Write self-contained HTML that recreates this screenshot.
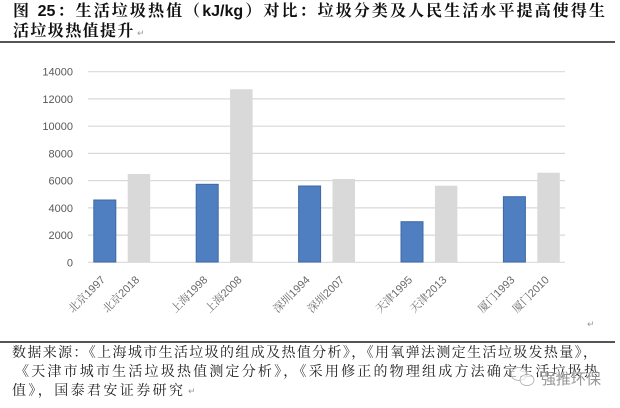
<!DOCTYPE html>
<html><head><meta charset="utf-8">
<style>
html,body{margin:0;padding:0;background:#fff;}
body{width:620px;height:408px;position:relative;overflow:hidden;}
.t{position:absolute;font-family:"Liberation Sans","Noto Serif CJK SC",serif;font-weight:700;font-size:16px;color:#111;line-height:20px;white-space:nowrap;}
.t .l{font-family:"Liberation Sans",sans-serif;letter-spacing:0;}
.f{position:absolute;font-family:"Liberation Serif","Noto Serif CJK SC",serif;font-size:14px;color:#222;line-height:19px;white-space:nowrap;}
.j{text-align:justify;text-align-last:justify;white-space:normal;overflow:hidden;height:19px;}
.rule{position:absolute;left:0;width:615px;height:2px;background:#555;}
.ret{position:absolute;font-family:"DejaVu Sans",sans-serif;font-size:9px;color:#999;}
</style></head>
<body>
<div class="t j" style="left:13px;top:2px;width:592px;height:20px;">图 <span class="l">25</span>：生活垃圾热值（<span class="l">kJ/kg</span>）对比：垃圾分类及人民生活水平提高使得生</div>
<div class="t" style="left:13px;top:22px;letter-spacing:1.4px;">活垃圾热值提升</div>
<div class="ret" style="left:137px;top:29px;">↵</div>
<div class="rule" style="top:41px;"></div>

<svg width="620" height="408" style="position:absolute;left:0;top:0;" xmlns="http://www.w3.org/2000/svg">
<g stroke="#d9d9d9" stroke-width="1.2">
<line x1="88" x2="565" y1="71.7" y2="71.7"/>
<line x1="88" x2="565" y1="98.9" y2="98.9"/>
<line x1="88" x2="565" y1="126.2" y2="126.2"/>
<line x1="88" x2="565" y1="153.4" y2="153.4"/>
<line x1="88" x2="565" y1="180.6" y2="180.6"/>
<line x1="88" x2="565" y1="207.9" y2="207.9"/>
<line x1="88" x2="565" y1="235.1" y2="235.1"/>
<line x1="88" x2="565" y1="262.3" y2="262.3"/>
</g>
<g font-family="Liberation Sans, sans-serif" font-size="11" fill="#595959" text-anchor="end">
<text x="73" y="75.7">14000</text>
<text x="73" y="102.9">12000</text>
<text x="73" y="130.2">10000</text>
<text x="73" y="157.4">8000</text>
<text x="73" y="184.6">6000</text>
<text x="73" y="211.9">4000</text>
<text x="73" y="239.1">2000</text>
<text x="73" y="266.3">0</text>
</g>
<g fill="#4f7fc0" stroke="#3d6aa6" stroke-width="1">
<rect x="93.8" y="200" width="22" height="62"/>
<rect x="196.2" y="184.3" width="22" height="77.7"/>
<rect x="298.6" y="186" width="22" height="76"/>
<rect x="401" y="221.7" width="22" height="40.3"/>
<rect x="503.4" y="196.7" width="22" height="65.3"/>
</g>
<g fill="#d9d9d9">
<rect x="127.7" y="174" width="22.5" height="88.3"/>
<rect x="230.1" y="89.3" width="22.5" height="173"/>
<rect x="332.5" y="179" width="22.5" height="83.3"/>
<rect x="434.9" y="185.7" width="22.5" height="76.6"/>
<rect x="537.3" y="172.7" width="22.5" height="89.6"/>
</g>
<g font-family="Liberation Sans, Noto Serif CJK SC, serif" font-size="11" fill="#6a6a6a" text-anchor="end">
<text x="103.1" y="281.6" transform="rotate(-45 103.1 277.8)">北京1997</text>
<text x="137.4" y="281.6" transform="rotate(-45 137.4 277.8)">北京2018</text>
<text x="205.5" y="281.6" transform="rotate(-45 205.5 277.8)">上海1998</text>
<text x="239.8" y="281.6" transform="rotate(-45 239.8 277.8)">上海2008</text>
<text x="307.9" y="281.6" transform="rotate(-45 307.9 277.8)">深圳1994</text>
<text x="342.2" y="281.6" transform="rotate(-45 342.2 277.8)">深圳2007</text>
<text x="410.3" y="281.6" transform="rotate(-45 410.3 277.8)">天津1995</text>
<text x="444.6" y="281.6" transform="rotate(-45 444.6 277.8)">天津2013</text>
<text x="512.7" y="281.6" transform="rotate(-45 512.7 277.8)">厦门1993</text>
<text x="547" y="281.6" transform="rotate(-45 547 277.8)">厦门2010</text>
</g>
</svg>

<div class="ret" style="left:587px;top:320px;">↵</div>
<div class="rule" style="top:340.5px;"></div>

<div class="f j" style="left:12px;top:344px;width:585px;">数据来源：《上海城市生活垃圾的组成及热值分析》，《用氧弹法测定生活垃圾发热量》，</div>
<div class="f j" style="left:15px;top:363px;width:583px;">《天津市城市生活垃圾热值测定分析》，《采用修正的物理组成方法确定生活垃圾热</div>
<div class="f" style="left:12px;top:382px;letter-spacing:2.4px;">值》，国泰君安证券研究</div>
<div class="ret" style="left:188px;top:387px;">↵</div>

<svg width="620" height="408" style="position:absolute;left:0;top:0;" xmlns="http://www.w3.org/2000/svg">
<g fill="rgba(255,255,255,0.6)" stroke="#aaa" stroke-width="0.8">
<ellipse cx="519" cy="374" rx="8" ry="6.5"/>
<ellipse cx="527" cy="380" rx="7" ry="5.5"/>
</g>
<text x="541" y="384" font-family="Liberation Sans, Noto Sans CJK SC, sans-serif" font-size="15" fill="#8a8a8a" stroke="#fff" stroke-width="0.6" paint-order="stroke" opacity="0.9">强推环保</text>
</svg>
</body></html>
